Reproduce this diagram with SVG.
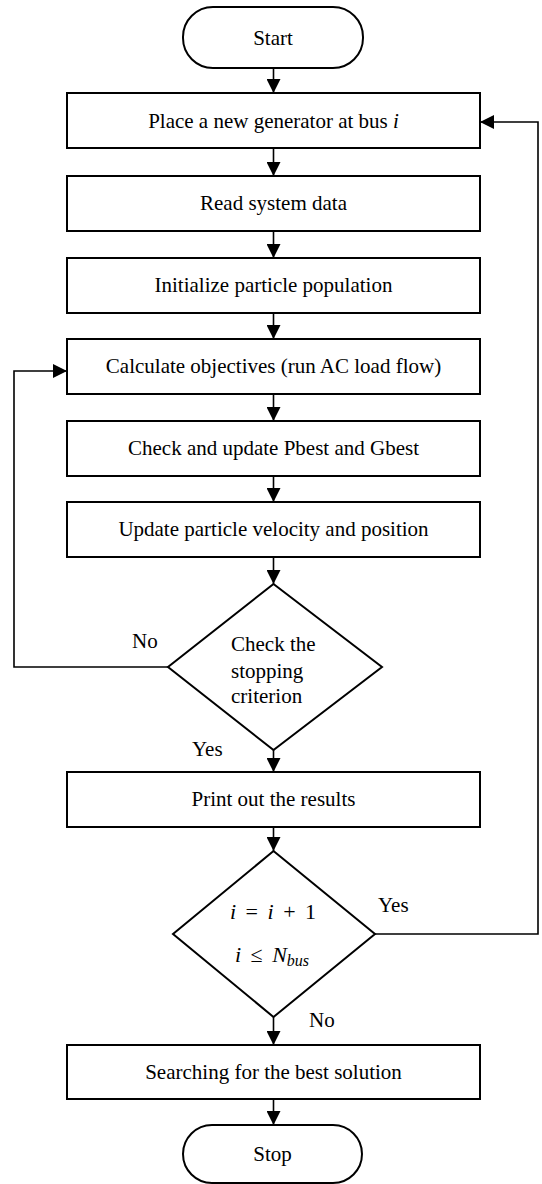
<svg xmlns="http://www.w3.org/2000/svg" width="542" height="1184" viewBox="0 0 542 1184">
<style>
.box{fill:#fff;stroke:#000;stroke-width:2}
.ln{fill:none;stroke:#000;stroke-width:1.6}
text{font-family:'Liberation Serif','Times New Roman','DejaVu Serif',serif;font-size:21px;fill:#000}
.c{text-anchor:middle}
.m{font-style:italic}
.math{font-size:22px;word-spacing:4px}
</style>
<defs>
<marker id="ah" viewBox="0 0 14 14" refX="14" refY="7" markerWidth="14" markerHeight="14" markerUnits="userSpaceOnUse" orient="auto">
<path d="M0,0 L14,7 L0,14 Z" fill="#000"/>
</marker>
</defs>
<rect width="542" height="1184" fill="#fff"/>
<g id="connectors">
<line class="ln" x1="273.5" y1="68" x2="273.5" y2="93" marker-end="url(#ah)"/>
<line class="ln" x1="273.5" y1="148" x2="273.5" y2="176" marker-end="url(#ah)"/>
<line class="ln" x1="273.5" y1="231" x2="273.5" y2="258" marker-end="url(#ah)"/>
<line class="ln" x1="273.5" y1="313" x2="273.5" y2="339" marker-end="url(#ah)"/>
<line class="ln" x1="273.5" y1="394" x2="273.5" y2="421" marker-end="url(#ah)"/>
<line class="ln" x1="273.5" y1="476" x2="273.5" y2="502" marker-end="url(#ah)"/>
<line class="ln" x1="273.5" y1="557" x2="273.5" y2="584" marker-end="url(#ah)"/>
<line class="ln" x1="273.5" y1="750" x2="273.5" y2="772" marker-end="url(#ah)"/>
<line class="ln" x1="273.5" y1="827" x2="273.5" y2="851" marker-end="url(#ah)"/>
<line class="ln" x1="273.5" y1="1017" x2="273.5" y2="1045" marker-end="url(#ah)"/>
<line class="ln" x1="273.5" y1="1099" x2="273.5" y2="1125" marker-end="url(#ah)"/>
<polyline class="ln" points="168,667 14,667 14,371 67,371" marker-end="url(#ah)"/>
<polyline class="ln" points="375,934 538,934 538,122 480,122" marker-end="url(#ah)"/>
<text x="132" y="648">No</text>
<text x="192" y="756">Yes</text>
<text x="378" y="912">Yes</text>
<text x="309" y="1027">No</text>
</g>
<g id="start">
<rect class="box" x="183" y="7" width="180" height="61" rx="30" ry="30"/>
<text class="c" x="273" y="45">Start</text>
</g>
<g id="place">
<rect class="box" x="67" y="93" width="413" height="55"/>
<text class="c" x="273.5" y="128">Place a new generator at bus <tspan class="m">i</tspan></text>
</g>
<g id="read">
<rect class="box" x="67" y="176" width="413" height="55"/>
<text class="c" x="273.5" y="210">Read system data</text>
</g>
<g id="init">
<rect class="box" x="67" y="258" width="413" height="55"/>
<text class="c" x="273.5" y="292">Initialize particle population</text>
</g>
<g id="calc">
<rect class="box" x="67" y="339" width="413" height="55"/>
<text class="c" x="273.5" y="373">Calculate objectives (run AC load flow)</text>
</g>
<g id="check">
<rect class="box" x="67" y="421" width="413" height="55"/>
<text class="c" x="273.5" y="455">Check and update Pbest and Gbest</text>
</g>
<g id="update">
<rect class="box" x="67" y="502" width="413" height="55"/>
<text class="c" x="273.5" y="536">Update particle velocity and position</text>
</g>
<g id="stopcrit">
<polygon class="box" points="273.5,584 382,667 273.5,750 168,667"/>
<text x="231" y="651">Check the</text>
<text x="231" y="678">stopping</text>
<text x="231" y="703">criterion</text>
</g>
<g id="print">
<rect class="box" x="67" y="772" width="413" height="55"/>
<text class="c" x="273.5" y="806">Print out the results</text>
</g>
<g id="busloop">
<polygon class="box" points="273.5,851 375,934 273.5,1017 173,934"/>
<text class="c math" x="273" y="919"><tspan class="m">i</tspan> = <tspan class="m">i</tspan> + 1</text>
<text class="c math" x="272" y="962"><tspan class="m">i</tspan> ≤ <tspan class="m">N</tspan><tspan class="m" font-size="16" dy="4">bus</tspan></text>
</g>
<g id="search">
<rect class="box" x="67" y="1045" width="413" height="54"/>
<text class="c" x="273.5" y="1079">Searching for the best solution</text>
</g>
<g id="stop">
<rect class="box" x="183" y="1125" width="179" height="58" rx="29" ry="29"/>
<text class="c" x="272.5" y="1161">Stop</text>
</g>
</svg>
